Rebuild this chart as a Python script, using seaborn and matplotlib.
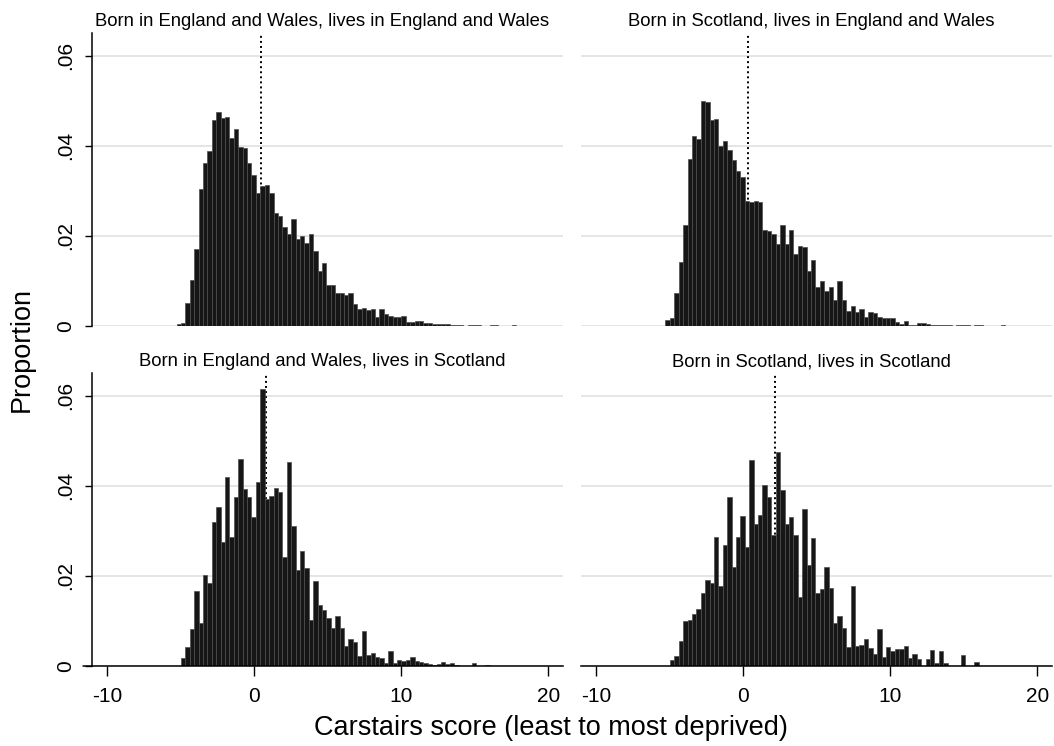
import numpy as np
import pandas as pd
import matplotlib
matplotlib.use("Agg")
import matplotlib.pyplot as plt
import seaborn as sns

# histogram bins: left edge of the first bin and bin width (Carstairs score units)
bin_start = -5.3
bin_width = 0.3

# proportions per bin
born_ew_lives_ew = [
    0.0004, 0.0007, 0.0051, 0.0103, 0.0171, 0.0303, 0.0361, 0.0389, 0.0457, 0.0474,
    0.0462, 0.0463, 0.0416, 0.0437, 0.0396, 0.0394, 0.0361, 0.0335, 0.0296, 0.0310,
    0.0313, 0.0296, 0.0251, 0.0244, 0.0219, 0.0205, 0.0238, 0.0192, 0.0199, 0.0184,
    0.0203, 0.0166, 0.0121, 0.0140, 0.0091, 0.0090, 0.0074, 0.0074, 0.0069, 0.0073,
    0.0049, 0.0038, 0.0041, 0.0036, 0.0037, 0.0020, 0.0037, 0.0026, 0.0022, 0.0020,
    0.0020, 0.0023, 0.0008, 0.0008, 0.0010, 0.0010, 0.0007, 0.0006, 0.0005, 0.0005,
    0.0004, 0.0004, 0.0002, 0.0002, 0.0002, 0.0, 0.0002, 0.0002, 0.0002, 0.0,
    0.0, 0.0002, 0.0002, 0.0, 0.0, 0.0, 0.0002,
]
born_sc_lives_ew = [
    0.0013, 0.0017, 0.0074, 0.0143, 0.0223, 0.0370, 0.0421, 0.0415, 0.0498, 0.0496,
    0.0458, 0.0460, 0.0399, 0.0411, 0.0391, 0.0369, 0.0344, 0.0331, 0.0277, 0.0275,
    0.0277, 0.0274, 0.0214, 0.0210, 0.0205, 0.0182, 0.0224, 0.0183, 0.0214, 0.0160,
    0.0177, 0.0175, 0.0123, 0.0147, 0.0086, 0.0099, 0.0077, 0.0086, 0.0058, 0.0099,
    0.0058, 0.0034, 0.0045, 0.0030, 0.0037, 0.0021, 0.0030, 0.0028, 0.0020, 0.0018,
    0.0018, 0.0018, 0.0009, 0.0005, 0.0010, 0.0003, 0.0003, 0.0007, 0.0007, 0.0005,
    0.0003, 0.0002, 0.0002, 0.0002, 0.0002, 0.0, 0.0002, 0.0002, 0.0002, 0.0,
    0.0002, 0.0002, 0.0, 0.0, 0.0, 0.0, 0.0002,
]
born_ew_lives_sc = [
    0.0, 0.0017, 0.0043, 0.0083, 0.0166, 0.0096, 0.0203, 0.0185, 0.0319, 0.0352,
    0.0275, 0.0420, 0.0286, 0.0376, 0.0460, 0.0392, 0.0374, 0.0331, 0.0409, 0.0615,
    0.0370, 0.0378, 0.0396, 0.0385, 0.0241, 0.0453, 0.0311, 0.0213, 0.0255, 0.0217,
    0.0102, 0.0188, 0.0135, 0.0124, 0.0107, 0.0085, 0.0110, 0.0085, 0.0045, 0.0061,
    0.0054, 0.0023, 0.0078, 0.0024, 0.0029, 0.0019, 0.0017, 0.0007, 0.0034, 0.0007,
    0.0013, 0.0012, 0.0013, 0.0019, 0.0011, 0.0008, 0.0007, 0.0004, 0.0002, 0.0004,
    0.0010, 0.0004, 0.0006, 0.0002, 0.0, 0.0, 0.0, 0.0006, 0.0, 0.0,
    0.0002,
]
born_sc_lives_sc = [
    0.0, 0.0013, 0.0022, 0.0056, 0.0099, 0.0102, 0.0115, 0.0127, 0.0161, 0.0191,
    0.0185, 0.0287, 0.0178, 0.0268, 0.0374, 0.0220, 0.0287, 0.0333, 0.0263, 0.0457,
    0.0315, 0.0335, 0.0401, 0.0376, 0.0290, 0.0474, 0.0390, 0.0315, 0.0331, 0.0290,
    0.0153, 0.0348, 0.0224, 0.0285, 0.0163, 0.0170, 0.0219, 0.0174, 0.0095, 0.0111,
    0.0085, 0.0042, 0.0178, 0.0044, 0.0047, 0.0061, 0.0039, 0.0026, 0.0083, 0.0020,
    0.0042, 0.0033, 0.0037, 0.0037, 0.0044, 0.0018, 0.0026, 0.0016, 0.0, 0.0016,
    0.0035, 0.0007, 0.0033, 0.0007, 0.0, 0.0, 0.0, 0.0024, 0.0, 0.0,
    0.0010,
]

panel_data = [born_ew_lives_ew, born_sc_lives_ew, born_ew_lives_sc, born_sc_lives_sc]
panel_titles = [
    "Born in England and Wales, lives in England and Wales",
    "Born in Scotland, lives in England and Wales",
    "Born in England and Wales, lives in Scotland",
    "Born in Scotland, lives in Scotland",
]
# mean score of each group (dotted reference line)
panel_means = [0.46, 0.29, 0.82, 2.16]

x_ticks = [-10, 0, 10, 20]
y_ticks = [0, 0.02, 0.04, 0.06]
y_tick_labels = ["0", ".02", ".04", ".06"]

sns.set_style("white")
plt.rcParams["font.family"] = ["Liberation Sans", "DejaVu Sans"]
plt.rcParams["axes.unicode_minus"] = False
plt.rcParams["text.color"] = "black"
plt.rcParams["xtick.color"] = "black"
plt.rcParams["ytick.color"] = "black"
plt.rcParams["axes.labelcolor"] = "black"

fig = plt.figure(figsize=(10.54, 7.46), dpi=100)

# axes rectangles in figure coords: [left, bottom, width, height]
col_left = [0.0873, 0.5512]
row_bottom = [0.5630, 0.1072]
ax_w, ax_h = 0.4469, 0.3928

for i, (heights, title, mean) in enumerate(zip(panel_data, panel_titles, panel_means)):
    row, col = divmod(i, 2)
    ax = fig.add_axes([col_left[col], row_bottom[row], ax_w, ax_h])

    n = len(heights)
    edges = bin_start + bin_width * np.arange(n + 1)
    df = pd.DataFrame({"score": (edges[:-1] + edges[1:]) / 2, "prop": heights})
    sns.histplot(data=df, x="score", weights="prop", bins=edges.tolist(), ax=ax,
                 color="#161616", edgecolor="#4e4e4e", linewidth=0.5,
                 alpha=1, zorder=2)
    # hide empty bins so they don't leave marks on the baseline
    for p in ax.patches:
        if p.get_height() <= 0:
            p.set_visible(False)

    ax.axvline(mean, color="black", linestyle=(0, (1, 1.6)), lw=1.4, zorder=1.5)

    ax.set_xlim(-11.05, 21.0)
    ax.set_ylim(0, 0.065)
    ax.set_xlabel("")
    ax.set_ylabel("")
    ax.set_title(title, fontsize=13.3, pad=5, x=0.489, color="black")

    ax.set_yticks(y_ticks, labels=y_tick_labels)
    ax.set_xticks(x_ticks)
    ax.grid(axis="y", color="#dedede", lw=1.1)
    ax.grid(axis="x", visible=False)
    ax.set_axisbelow(True)

    for s in ax.spines.values():
        s.set_visible(False)

    if col == 0:
        ax.spines["left"].set_visible(True)
        ax.spines["left"].set_linewidth(1.1)
        ax.spines["left"].set_color("black")
        ax.tick_params(axis="y", left=True, length=5, width=1, labelsize=15,
                       pad=7, labelrotation=90, colors="black")
        for lbl in ax.get_yticklabels():
            lbl.set_va("center")
    else:
        ax.tick_params(axis="y", left=False, labelleft=False)

    if row == 1:
        ax.spines["bottom"].set_visible(True)
        ax.spines["bottom"].set_linewidth(1.1)
        ax.spines["bottom"].set_color("black")
        ax.tick_params(axis="x", bottom=True, length=7, width=1, labelsize=15,
                       pad=8, colors="black")
        if col == 0:
            # Stata draws the x axis a little past the y axis
            ax.axhline(0, xmin=-0.019, xmax=0, color="black", lw=1.1, clip_on=False)
    else:
        ax.tick_params(axis="x", bottom=False, labelbottom=False)

fig.text(0.523, 0.024, "Carstairs score (least to most deprived)", fontsize=19.5,
         ha="center", va="center", color="black")
fig.text(0.021, 0.531, "Proportion", fontsize=19.5, rotation=90,
         ha="center", va="center", color="black")

fig.savefig("out.png", dpi=100, facecolor="white")
